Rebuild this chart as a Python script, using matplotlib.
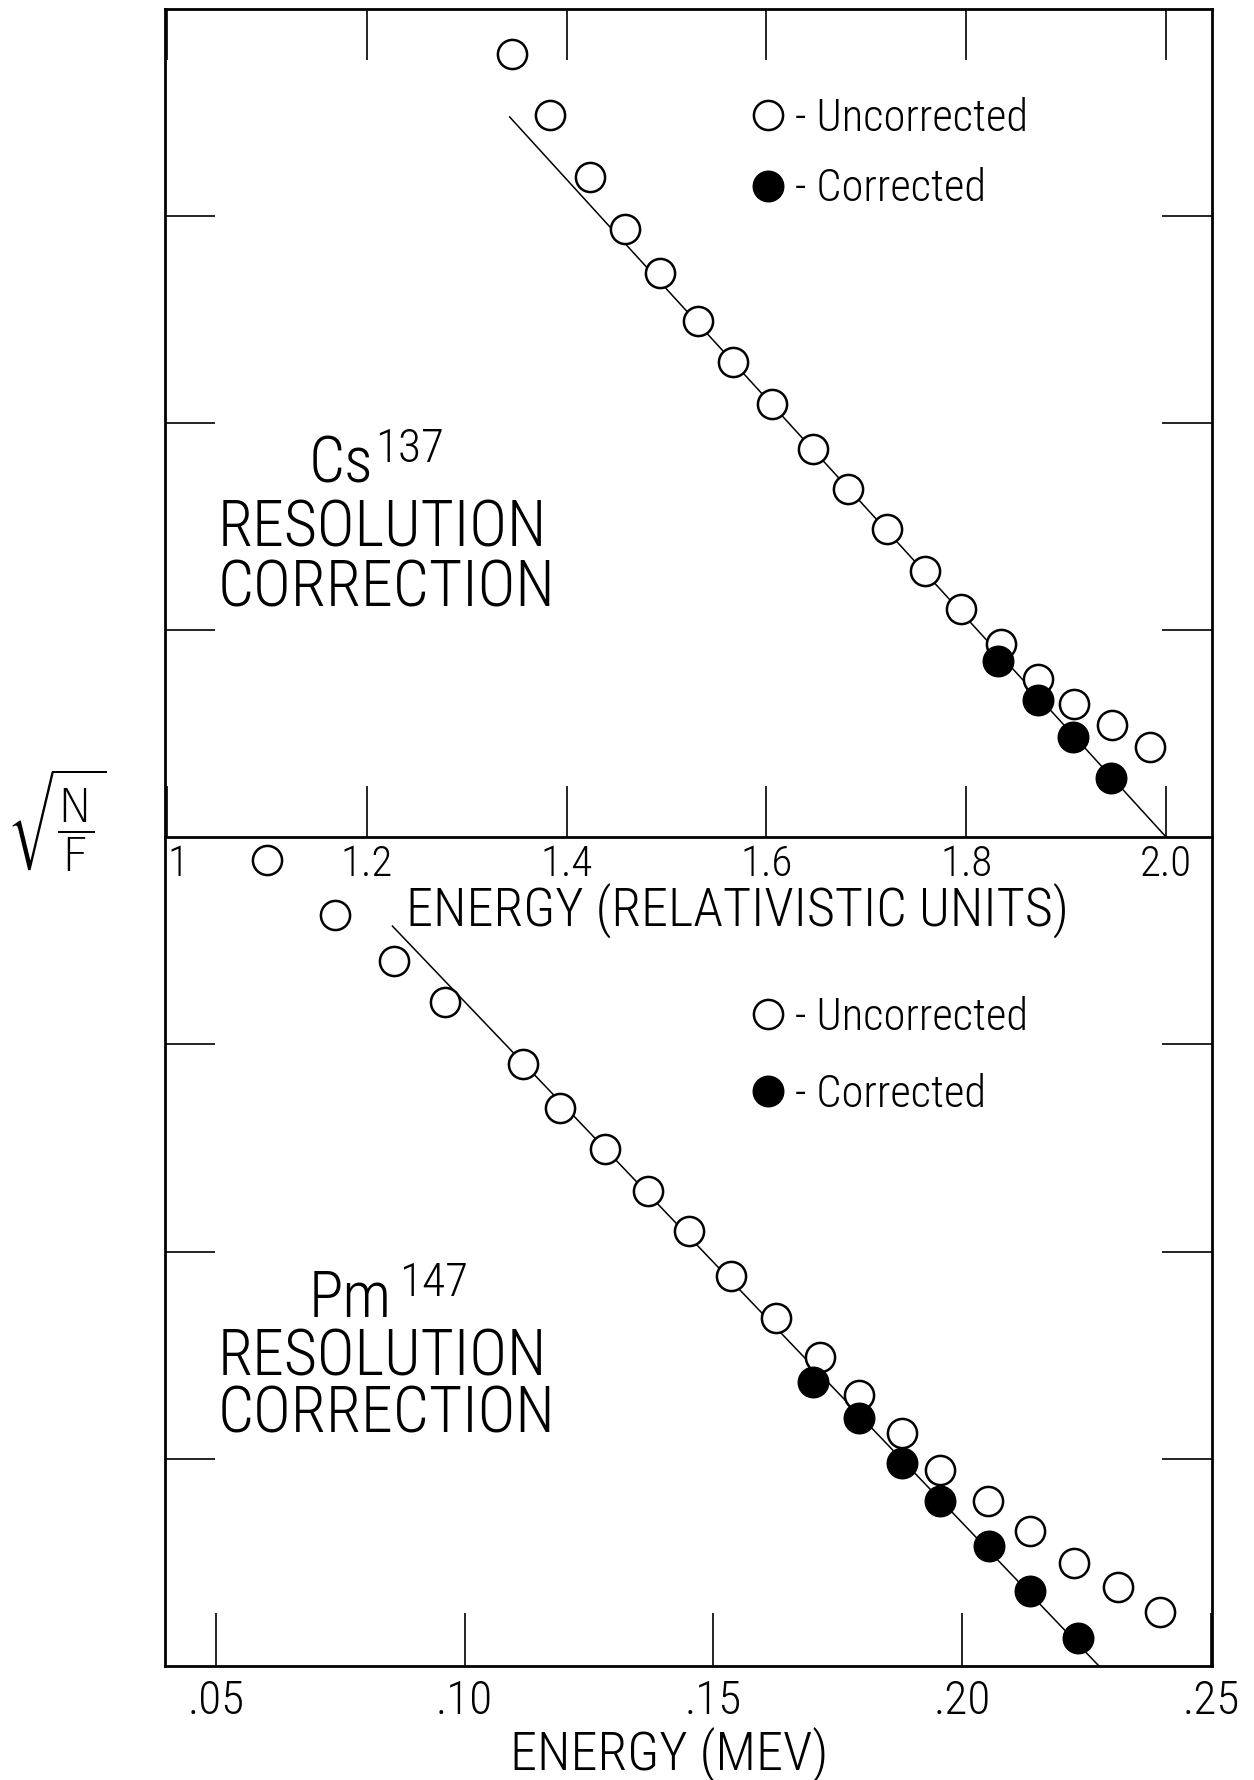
import matplotlib
matplotlib.use('Agg')
import matplotlib.pyplot as plt
from matplotlib import font_manager

# --- data ---------------------------------------------------------------
# Cs-137, energy in relativistic units, y = sqrt(N/F) (arbitrary units)
cs_energy_unc = [1.345, 1.383, 1.423, 1.458, 1.493, 1.532, 1.567, 1.606, 1.647,
                 1.682, 1.721, 1.759, 1.795, 1.835, 1.872, 1.908, 1.946, 1.984]
cs_root_unc = [3.783, 3.488, 3.188, 2.937, 2.725, 2.493, 2.295, 2.092, 1.874,
               1.681, 1.488, 1.285, 1.101, 0.932, 0.763, 0.643, 0.541, 0.435]
cs_energy_cor = [1.832, 1.872, 1.907, 1.945]
cs_root_cor = [0.850, 0.662, 0.483, 0.285]
cs_fit_energy = [1.343, 2.0]
cs_fit_root = [3.478, 0.0]

# Pm-147, energy in MeV
pm_energy_unc = [0.0602, 0.0740, 0.0859, 0.0961, 0.1117, 0.1191, 0.1283,
                 0.1369, 0.1451, 0.1536, 0.1626, 0.1714, 0.1792, 0.1880,
                 0.1956, 0.2052, 0.2136, 0.2225, 0.2313, 0.2397]
pm_root_unc = [3.889, 3.623, 3.401, 3.203, 2.903, 2.691, 2.493, 2.290, 2.097,
               1.884, 1.681, 1.493, 1.309, 1.126, 0.947, 0.797, 0.652, 0.498,
               0.382, 0.261]
pm_energy_cor = [0.1700, 0.1792, 0.1880, 0.1956, 0.2054, 0.2136, 0.2233]
pm_root_cor = [1.372, 1.198, 0.981, 0.797, 0.580, 0.362, 0.135]
pm_fit_energy = [0.0855, 0.2275]
pm_fit_root = [3.570, 0.0]

cs_ticks = [1.0, 1.2, 1.4, 1.6, 1.8, 2.0]
cs_tick_labels = ['1', '1.2', '1.4', '1.6', '1.8', '2.0']
pm_ticks = [0.05, 0.10, 0.15, 0.20, 0.25]
pm_tick_labels = ['.05', '.10', '.15', '.20', '.25']
y_ticks = [1, 2, 3]

# narrow, thin sans face, like the hand lettering
available = {f.name for f in font_manager.fontManager.ttflist}
FONT = 'DejaVu Sans'
for name in ['Roboto Condensed', 'Liberation Sans Narrow', 'Open Sans Condensed']:
    if name in available:
        FONT = name
        break
plt.rcParams['font.family'] = [FONT, 'DejaVu Sans']
plt.rcParams['font.weight'] = 'light'
plt.rcParams['axes.labelweight'] = 'light'


def draw_panel(ax, e_unc, r_unc, e_cor, r_cor, e_fit, r_fit):
    """Fitted line, open (uncorrected) and filled (corrected) points"""
    ax.plot(e_fit, r_fit, color='black', lw=1.1, zorder=2)
    unc, = ax.plot(e_unc, r_unc, 'o', ms=21, mfc='white', mec='black',
                   mew=1.8, zorder=3)
    cor, = ax.plot(e_cor, r_cor, 'o', ms=22, mfc='black', mec='black',
                   mew=1.0, zorder=4)
    ax.set_ylim(0, 4)
    ax.set_yticks(y_ticks)
    ax.set_yticklabels([])
    ax.tick_params(axis='y', direction='in', length=36, width=1.2,
                   left=True, right=True)
    for s in ax.spines.values():
        s.set_linewidth(2.0)
    return unc, cor


def add_legend(ax, handles, anchor, spacing):
    ax.legend(handles, ['- Uncorrected', '- Corrected'], loc='upper left',
              bbox_to_anchor=anchor, frameon=False, numpoints=1,
              handlelength=0.7, handletextpad=0.25, labelspacing=spacing,
              borderpad=0, borderaxespad=0,
              prop={'size': 32, 'weight': 'light'})


def add_title(ax, element, mass, x_mass, y_elem, y_mass, y_res, y_cor):
    kw = dict(transform=ax.transAxes, ha='left', va='baseline',
              fontweight='light')
    ax.text(0.1375, y_elem, element, fontsize=46, **kw)
    ax.text(x_mass, y_mass, mass, fontsize=34, **kw)
    ax.text(0.0506, y_res, 'RESOLUTION', fontsize=46, **kw)
    ax.text(0.0506, y_cor, 'CORRECTION', fontsize=46, **kw)


fig = plt.figure(figsize=(12.54, 17.80), dpi=100)
ax1 = fig.add_axes([0.1316, 0.5298, 0.8349, 0.4652])
ax2 = fig.add_axes([0.1316, 0.0640, 0.8349, 0.4658])
ax2.patch.set_visible(False)   # keep ax1's tick labels visible

# top panel: Cs-137
unc1, cor1 = draw_panel(ax1, cs_energy_unc, cs_root_unc, cs_energy_cor,
                        cs_root_cor, cs_fit_energy, cs_fit_root)
ax1.set_xlim(0.998, 2.046)
ax1.set_xticks(cs_ticks)
ax1.set_xticklabels(cs_tick_labels, fontsize=31)
ax1.get_xticklabels()[0].set_horizontalalignment('left')
ax1.tick_params(axis='x', direction='in', length=37, width=1.2,
                top=True, bottom=True, pad=5)
ax1.set_xlabel('ENERGY (RELATIVISTIC UNITS)', fontsize=39, fontweight='light')
ax1.xaxis.set_label_coords(0.547, -0.056)
add_legend(ax1, [unc1, cor1], (0.561, 0.893), 0.62)
add_title(ax1, 'Cs', '137', 0.2006, 0.4275, 0.4529, 0.3502, 0.2778)

# bottom panel: Pm-147
unc2, cor2 = draw_panel(ax2, pm_energy_unc, pm_root_unc, pm_energy_cor,
                        pm_root_cor, pm_fit_energy, pm_fit_root)
ax2.spines['top'].set_visible(False)
ax2.set_xlim(0.0398, 0.2502)
ax2.set_xticks(pm_ticks)
ax2.set_xticklabels(pm_tick_labels, fontsize=34)
ax2.tick_params(axis='x', direction='in', length=38, width=1.2,
                top=False, bottom=True, pad=9)
ax2.set_xlabel('ENERGY (MEV)', fontsize=39, fontweight='light')
ax2.xaxis.set_label_coords(0.482, -0.074)
add_legend(ax2, [unc2, cor2], (0.561, 0.808), 0.78)
add_title(ax2, 'Pm', '147', 0.2236, 0.4210, 0.4463, 0.3510, 0.2823)

fig.text(0.0455, 0.539, r'$\sqrt{\dfrac{\mathrm{N}}{\mathrm{F}}}$',
         fontsize=34, ha='center', va='center')

fig.savefig('out.png', dpi=100)
plt.close(fig)
